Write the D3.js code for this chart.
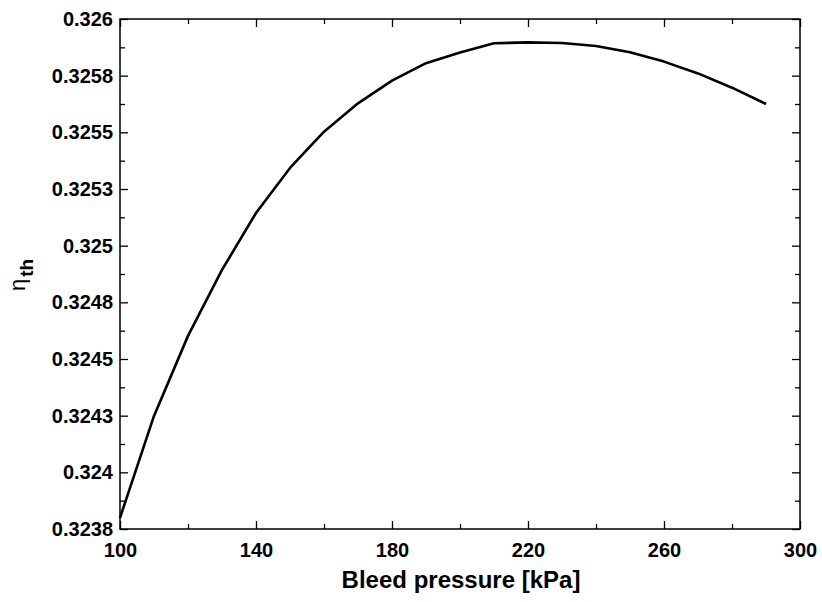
<!DOCTYPE html>
<html>
<head>
<meta charset="utf-8">
<script src="https://cdn.jsdelivr.net/npm/d3@7"></script>
<style>
  html, body { margin: 0; padding: 0; background: #fff; }
  svg { display: block; }
  text { font-family: "Liberation Sans", Arial, sans-serif; }
</style>
</head>
<body>
<svg id="chart" width="822" height="602"></svg>
<script>
// ---- Data ----
const pressure = [100, 110, 120, 130, 140, 150, 160, 170, 180, 190,
                  200, 210, 220, 230, 240, 250, 260, 270, 280, 290];
const efficiency = [0.323799, 0.324249, 0.324602, 0.324893, 0.325144, 0.325343, 0.325503, 0.325628, 0.325728, 0.325805,
                    0.325852, 0.325893, 0.325897, 0.325894, 0.325881, 0.325853, 0.325812, 0.325760, 0.325697, 0.325625];

const xMajorTicks = [100, 140, 180, 220, 260, 300];
const xMinorTicks = [120, 160, 200, 240, 280];
const yMajorTicks = [0.32375, 0.324, 0.32425, 0.3245, 0.32475, 0.325, 0.32525, 0.3255, 0.32575, 0.326];
const yTickLabels = ["0.3238", "0.324", "0.3243", "0.3245", "0.3248", "0.325", "0.3253", "0.3255", "0.3258", "0.326"];
const yMinorTicks = [0.323875, 0.324125, 0.324375, 0.324625, 0.324875, 0.325125, 0.325375, 0.325625, 0.325875];

const xTitle = "Bleed pressure [kPa]";

// ---- Layout ----
const L = 120, R = 800, T = 19, B = 529;
const svg = d3.select("#chart");

const x = d3.scaleLinear().domain([100, 300]).range([L, R]);
const y = d3.scaleLinear().domain([0.32375, 0.326]).range([B, T]);

function styleAxis(g, labels) {
  g.select(".domain").remove();
  g.selectAll(".tick line").attr("stroke", "#000").attr("stroke-width", 1.3);
  if (labels) {
    g.selectAll(".tick text")
      .attr("fill", "#000")
      .style("font-size", "20px")
      .style("font-weight", "bold")
      .style("font-family", '"Liberation Sans", Arial, sans-serif');
  } else {
    g.selectAll(".tick text").remove();
  }
}

// bottom axis
svg.append("g").attr("transform", `translate(0,${B})`)
  .call(d3.axisBottom(x).tickValues(xMajorTicks).tickSizeInner(-8).tickSizeOuter(0).tickPadding(14).tickFormat(d3.format("d")))
  .call(g => styleAxis(g, true));
svg.append("g").attr("transform", `translate(0,${B})`)
  .call(d3.axisBottom(x).tickValues(xMinorTicks).tickSizeInner(-5).tickSizeOuter(0))
  .call(g => styleAxis(g, false));
// top axis
svg.append("g").attr("transform", `translate(0,${T})`)
  .call(d3.axisTop(x).tickValues(xMajorTicks).tickSizeInner(-8).tickSizeOuter(0))
  .call(g => styleAxis(g, false));
svg.append("g").attr("transform", `translate(0,${T})`)
  .call(d3.axisTop(x).tickValues(xMinorTicks).tickSizeInner(-5).tickSizeOuter(0))
  .call(g => styleAxis(g, false));
// left axis
svg.append("g").attr("transform", `translate(${L},0)`)
  .call(d3.axisLeft(y).tickValues(yMajorTicks).tickSizeInner(-8).tickSizeOuter(0).tickPadding(7)
        .tickFormat((d, i) => yTickLabels[i]))
  .call(g => styleAxis(g, true));
svg.append("g").attr("transform", `translate(${L},0)`)
  .call(d3.axisLeft(y).tickValues(yMinorTicks).tickSizeInner(-5).tickSizeOuter(0))
  .call(g => styleAxis(g, false));
// right axis
svg.append("g").attr("transform", `translate(${R},0)`)
  .call(d3.axisRight(y).tickValues(yMajorTicks).tickSizeInner(-8).tickSizeOuter(0))
  .call(g => styleAxis(g, false));
svg.append("g").attr("transform", `translate(${R},0)`)
  .call(d3.axisRight(y).tickValues(yMinorTicks).tickSizeInner(-5).tickSizeOuter(0))
  .call(g => styleAxis(g, false));

// frame
svg.append("rect")
  .attr("x", L).attr("y", T).attr("width", R - L).attr("height", B - T)
  .attr("fill", "none").attr("stroke", "#000").attr("stroke-width", 1.5);

// curve
const line = d3.line().x((d, i) => x(pressure[i])).y(d => y(d));
svg.append("path")
  .datum(efficiency)
  .attr("d", line)
  .attr("fill", "none")
  .attr("stroke", "#000")
  .attr("stroke-width", 2.6)
  .attr("stroke-linejoin", "round");

// x title
svg.append("text")
  .attr("x", (L + R) / 2 + 1).attr("y", 588)
  .attr("text-anchor", "middle")
  .style("font-size", "24px").style("font-weight", "bold")
  .text(xTitle);

// y title: η with subscript th
const yt = svg.append("text")
  .attr("transform", `translate(25,291) rotate(-90)`)
  .attr("text-anchor", "start");
yt.append("tspan").style("font-size", "22px").style("font-weight", "normal").text("η");
yt.append("tspan").attr("dy", 8).attr("dx", 2).style("font-size", "19px").style("font-weight", "bold").text("th");
</script>
</body>
</html>
